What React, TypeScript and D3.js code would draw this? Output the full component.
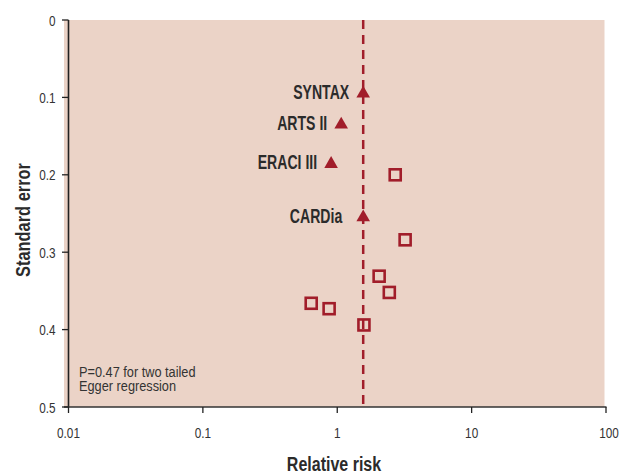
import React from "react";
import * as d3 from "d3";

const labeledStudies = ["SYNTAX", "ARTS II", "ERACI III", "CARDia"];
const labeledRR = [1.56, 1.07, 0.9, 1.56];
const labeledSE = [0.095, 0.135, 0.186, 0.255];

const otherRR = [2.7, 3.2, 2.05, 2.44, 0.64, 0.87, 1.58];
const otherSE = [0.2, 0.284, 0.331, 0.352, 0.366, 0.373, 0.394];

const pooledRR = 1.56;

const xTicks = [0.01, 0.1, 1, 10, 100];
const xTickLabels = ["0.01", "0.1", "1", "10", "100"];
const yTicks = [0, 0.1, 0.2, 0.3, 0.4, 0.5];
const yTickLabels = ["0", "0.1", "0.2", "0.3", "0.4", "0.5"];

const noteLines = ["P=0.47 for two tailed", "Egger regression"];

const W = 622;
const H = 476;
const RED = "#a11d2a";
const BG = "#ebd3c7";
const TXT = "#2b2b2b";
const FONT = "'Liberation Sans', Arial, sans-serif";

type CTProps = {
  x: number;
  y: number;
  sx: number;
  size: number;
  anchor?: string;
  bold?: boolean;
  fill?: string;
  rotate?: number;
  children: React.ReactNode;
};

function CText({ x, y, sx, size, anchor = "start", bold = false, fill = "#333", rotate = 0, children }: CTProps) {
  return (
    <text
      transform={`translate(${x},${y}) rotate(${rotate}) scale(${sx},1)`}
      textAnchor={anchor}
      fontSize={size}
      fontWeight={bold ? "bold" : "normal"}
      fill={fill}
    >
      {children}
    </text>
  );
}

export default function App() {
  const x = d3.scaleLog().domain([0.01, 100]).range([68.5, 606]);
  const y = d3.scaleLinear().domain([0, 0.5]).range([20, 407]);
  const tri = d3.symbol().type(d3.symbolTriangle).size(80)();
  const labelGap = (name: string) => (name === "CARDia" ? 21 : 14);

  return (
    <svg
      width={W}
      height={H}
      style={{ position: "absolute", left: 0, top: 0, display: "block" }}
      fontFamily={FONT}
    >
      <rect x={0} y={0} width={W} height={H} fill="#ffffff" />
      <rect x={64} y={y(0)} width={604.5 - 64} height={y(0.5) - y(0)} fill={BG} />

      {/* pooled dashed line */}
      <line
        x1={x(pooledRR)}
        x2={x(pooledRR)}
        y1={y(0)}
        y2={y(0.5)}
        stroke={RED}
        strokeWidth={2.5}
        strokeDasharray="9,6"
      />

      {/* axes */}
      <line x1={68.5} x2={68.5} y1={y(0)} y2={y(0.5)} stroke="#222" strokeWidth={1.6} />
      <line x1={64} x2={606.5} y1={y(0.5)} y2={y(0.5)} stroke="#333" strokeWidth={1.6} />
      {yTicks.map((t, i) => (
        <g key={"y" + i}>
          <line x1={62} x2={68.5} y1={y(t)} y2={y(t)} stroke="#222" strokeWidth={1.3} />
          <CText x={55.5} y={y(t) + 5.5} sx={0.76} size={15.5} anchor="end">
            {yTickLabels[i]}
          </CText>
        </g>
      ))}
      {xTicks.map((t, i) => (
        <g key={"x" + i}>
          <line x1={x(t)} x2={x(t)} y1={y(0.5)} y2={y(0.5) + 6} stroke="#222" strokeWidth={1.3} />
          <CText x={x(t) + (i === 4 ? 3 : 0)} y={438} sx={0.76} size={15.5} anchor="middle">
            {xTickLabels[i]}
          </CText>
        </g>
      ))}

      {/* axis titles */}
      <CText x={334} y={471} sx={0.8} size={20} anchor="middle" bold fill={TXT}>
        Relative risk
      </CText>
      <CText x={30} y={220} sx={0.82} size={20} anchor="middle" bold fill={TXT} rotate={-90}>
        Standard error
      </CText>

      {/* other studies */}
      {otherRR.map((rr, i) => (
        <rect
          key={"s" + i}
          x={x(rr) - 5.5}
          y={y(otherSE[i]) - 5.5}
          width={11}
          height={11}
          fill="none"
          stroke={RED}
          strokeWidth={2.6}
        />
      ))}

      {/* labeled studies */}
      {labeledStudies.map((name, i) => (
        <g key={"l" + i}>
          <path
            d={tri}
            transform={`translate(${x(labeledRR[i])}, ${y(labeledSE[i])})`}
            fill={RED}
          />
          <CText
            x={x(labeledRR[i]) - labelGap(name)}
            y={y(labeledSE[i]) + 5.5}
            sx={0.67}
            size={21}
            anchor="end"
            bold
            fill={TXT}
          >
            {name}
          </CText>
        </g>
      ))}

      {/* note */}
      {noteLines.map((t, i) => (
        <CText key={"n" + i} x={79} y={377 + i * 14} sx={0.88} size={14.5}>
          {t}
        </CText>
      ))}
    </svg>
  );
}
